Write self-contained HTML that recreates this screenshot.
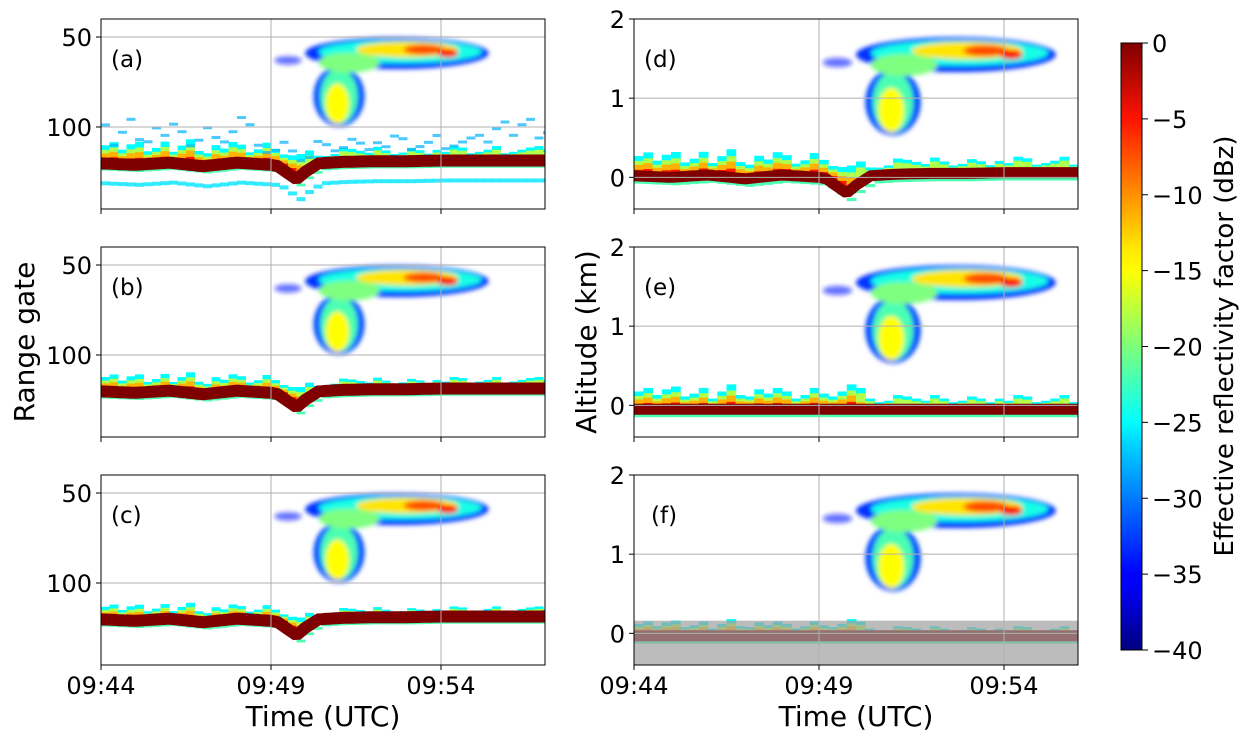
<!DOCTYPE html>
<html><head><meta charset="utf-8"><style>
body{margin:0;background:#fff;width:1248px;height:742px;overflow:hidden;font-family:"DejaVu Sans","Liberation Sans",sans-serif}
</style></head><body>
<svg id="fig" width="1248" height="742" xmlns="http://www.w3.org/2000/svg" font-family="DejaVu Sans, Liberation Sans, sans-serif">
<defs>
<filter id="blur" x="-20%" y="-20%" width="140%" height="140%"><feGaussianBlur stdDeviation="2.5"/></filter>
<linearGradient id="jet" x1="0" y1="1" x2="0" y2="0">
<stop offset="0" stop-color="#00007f"/><stop offset="0.11" stop-color="#0000ff"/><stop offset="0.125" stop-color="#0000ff"/>
<stop offset="0.34" stop-color="#00d4ff"/><stop offset="0.375" stop-color="#0ff"/><stop offset="0.5" stop-color="#7dff7a"/>
<stop offset="0.625" stop-color="#ff0"/><stop offset="0.66" stop-color="#ffea00"/><stop offset="0.875" stop-color="#ff1300"/><stop offset="1" stop-color="#7f0000"/>
</linearGradient>
</defs>
</svg>
<script>
// ---- data ----
const cloudT  = [8.7, 7.0, 5.5, 8.8, 7.0, 7.3, 9.0, 6.95, 9.5, 10.2];
const cloudA  = [1.55,0.95,1.45,1.57,0.95,1.42,1.6, 0.85, 1.6, 1.55];
const cloudRT = [2.7, 0.75,0.4, 2.4, 0.55,0.9, 1.5, 0.35, 0.6, 0.3];
const cloudRA = [0.22,0.42,0.06,0.16,0.38,0.14,0.11,0.28, 0.07,0.06];
const cloudZ  = [-33, -32, -34, -24, -22, -20, -14, -15, -8, -5];
const surfT = [0,1,2,3,4,5,5.2,5.5,5.75,6.0,6.4,7.1,8,9,10,11,12,13.2];
const surfA = [0.02,0.0,0.03,-0.02,0.03,0.0,-0.02,-0.12,-0.2,-0.1,0.02,0.04,0.05,0.05,0.06,0.06,0.06,0.06];
const spikes = [0.25,0.3,0.2,0.28,0.32,0.18,0.22,0.3,0.15,0.25,0.35,0.2,0.18,0.28,0.22,0.3,0.25,0.15,0.2,0.3,0.22,0.18,0.25,0.35,0.3,0.15,0.1,0.12,0.2,0.18,0.15,0.12,0.2,0.15,0.1,0.12,0.18,0.15,0.1,0.15,0.12,0.2,0.18,0.1,0.12,0.15,0.2,0.1,0.12,0.15,0.18,0.2,0.15];
const spikeStep = 0.25;
const xTicks = ["09:44","09:49","09:54"];
const xTickMin = [0,5,10];
const gateTicks = [50,100];
const altTicks = [0,1,2];
const cbTicks = [0,-5,-10,-15,-20,-25,-30,-35,-40];
const panels = ["(a)","(b)","(c)","(d)","(e)","(f)"];
const spikeScale = [1.0,0.8,0.7,1.0,0.9,0.6];
const surfFlat = [false,false,false,false,true,true];

const NS="http://www.w3.org/2000/svg", svg=document.getElementById('fig');
function el(t,a,p){const e=document.createElementNS(NS,t);for(const k in a)e.setAttribute(k,a[k]);(p||svg).appendChild(e);return e;}
function jet(z){let v=(z+40)/40;v=Math.max(0,Math.min(1,v));
 const r=Math.min(1,Math.max(0,1.5-Math.abs(4*v-3))),g=Math.min(1,Math.max(0,1.5-Math.abs(4*v-2))),b=Math.min(1,Math.max(0,1.5-Math.abs(4*v-1)));
 return `rgb(${r*255|0},${g*255|0},${b*255|0})`;}

const tops=[19,247,475], H=190;
function drawPanel(i){
 const left=i<3, top=tops[i%3];
 const X0=left?101:634, W=444, pxMin=left?34:37;
 const x=t=>X0+t*pxMin;
 let y;
 if(left){const g=a=>121-40*a; y=a=>top+(g(a)-40)*1.8;} else {y=a=>top+(2-a)*(H/2.4);}
 const g=el('g',{'clip-path':`url(#clip${i})`});
 
 
 const cp=el('clipPath',{id:'clip'+i}); el('rect',{x:X0,y:top,width:W,height:H},cp);
 const cg=el('g',{filter:'url(#blur)'},g);
 
 
 for(let k=0;k<cloudT.length;k++){
  const e=el('ellipse',{cx:x(cloudT[k]),cy:y(cloudA[k]),rx:cloudRT[k]*pxMin,ry:Math.abs(y(0)-y(cloudRA[k])),fill:jet(cloudZ[k]),opacity:k==2?0.6:1},cg);
  
  
 }
 const sa=t=>{if(surfFlat[i])return i==4?-0.05:-0.03;for(let k=1;k<surfT.length;k++)if(t<=surfT[k]){const f=(t-surfT[k-1])/(surfT[k]-surfT[k-1]);return surfA[k-1]+f*(surfA[k]-surfA[k-1]);}return surfA[surfA.length-1];};
 const sg=el('g',{},g);
 
 
 const sc=spikeScale[i];
 for(let k=0;k<spikes.length;k++){
  const t=k*spikeStep, s=sa(t), h=spikes[k]*sc, w=spikeStep*pxMin+0.5;
  const hot=t<6?1:0.6;
  const layers=[[h,-25],[h*0.75,-18],[h*0.55*hot,-12],[h*0.3*hot,-6]];
  for(const [hh,z] of layers){el('rect',{x:x(t),y:y(s+hh),width:w,height:Math.max(0,y(s)-y(s+hh)),fill:jet(z)},sg);}
  el('rect',{x:x(t),y:y(s-0.06),width:w,height:y(s-0.1)-y(s-0.06),fill:jet(-22)},sg);
  if(i==0){el('rect',{x:x(t),y:y(s-0.25),width:w,height:4,fill:jet(-26),opacity:0.8},sg);
           el('rect',{x:x(t),y:y(s+0.37*spikes[(k+7)%spikes.length]/0.2),width:w,height:3,fill:jet(-28),opacity:0.7},sg);}
 }
 let d='';for(let t=0;t<=13.2;t+=0.1)d+=(t?'L':'M')+x(t).toFixed(1)+','+y(sa(t)).toFixed(1);
 const ln=el('path',{d:d,stroke:'#7f0000',fill:'none','stroke-width':left?12:11},g);
 
 
 if(i==5){const gr=el('rect',{x:X0,y:y(0.16),width:W,height:top+H-y(0.16),fill:'#a0a0a0',opacity:0.7},g);
  
  }
 const ticksV=left?gateTicks:altTicks;
 for(let k=0;k<xTickMin.length;k++){el('line',{x1:x(xTickMin[k]),x2:x(xTickMin[k]),y1:top,y2:top+H,stroke:'#b0b0b0','stroke-width':1},svg);
  el('line',{x1:x(xTickMin[k]),x2:x(xTickMin[k]),y1:top+H,y2:top+H+5,stroke:'#000'});
  if(i%3==2){const tx=el('text',{x:x(xTickMin[k]),y:top+H+29,'text-anchor':'middle','font-size':24},svg);tx.textContent=xTicks[k];
   }}
 for(const v of ticksV){const yy=left?top+(v-40)*1.8:y(v);
  el('line',{x1:X0,x2:X0+W,y1:yy,y2:yy,stroke:'#b0b0b0'});el('line',{x1:X0-5,x2:X0,y1:yy,y2:yy,stroke:'#000'});
  const tx=el('text',{x:X0-9,y:yy+9,'text-anchor':'end','font-size':24});tx.textContent=v;
  }
 const fr=el('rect',{x:X0,y:top,width:W,height:H,fill:'none',stroke:'#000','stroke-width':1});
 
 const lb=el('text',{x:X0+(i==5?17:10),y:top+48,'font-size':23});lb.textContent=panels[i];
 
}
for(let i=0;i<6;i++)drawPanel(i);
function txt(s,a,name){const t=el('text',a);t.textContent=s;}
txt('Time (UTC)',{x:323,y:726,'text-anchor':'middle','font-size':28},'x-axis-title-left');
txt('Time (UTC)',{x:856,y:726,'text-anchor':'middle','font-size':28},'x-axis-title-right');
txt('Range gate',{x:0,y:0,'text-anchor':'middle','font-size':28,transform:'translate(34,342) rotate(-90)'},'y-axis-title-left');
txt('Altitude (km)',{x:0,y:0,'text-anchor':'middle','font-size':28,transform:'translate(596,342) rotate(-90)'},'y-axis-title-right');
const cb=el('rect',{x:1121,y:43,width:21,height:607,fill:'url(#jet)',stroke:'#000'});

for(const v of cbTicks){const yy=43+(-v/40)*607;el('line',{x1:1142,x2:1148,y1:yy,y2:yy,stroke:'#000'});
 txt(String(v).replace('-','\u2212'),{x:1152,y:yy+9,'font-size':24},'colorbar-tick-label');}
txt('Effective  reflectivity factor (dBz)',{x:0,y:0,'text-anchor':'middle','font-size':26,transform:'translate(1233,346) rotate(-90)'},'colorbar-title');
</script>
</body></html>
